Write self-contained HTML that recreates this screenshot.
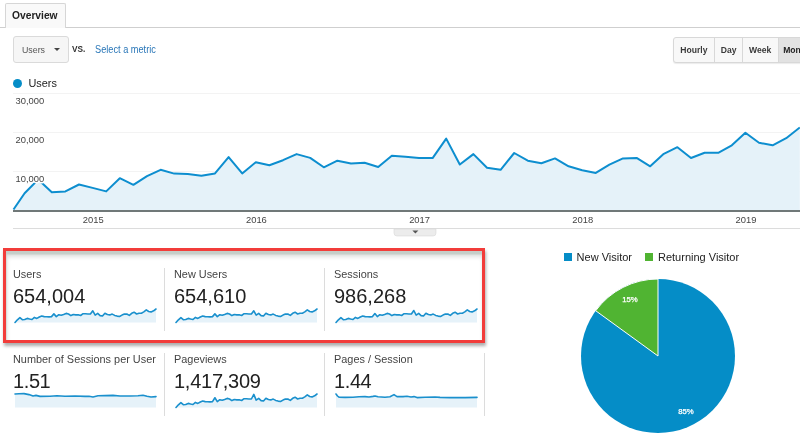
<!DOCTYPE html>
<html><head><meta charset="utf-8"><title>Overview</title>
<style>
html,body{margin:0;padding:0;background:#fff;}
body{width:800px;height:433px;position:relative;overflow:hidden;font-family:"Liberation Sans",sans-serif;color:#222;}
.abs{position:absolute;}
.sx{display:inline-block;transform-origin:0 50%;white-space:nowrap;}
.tabline{position:absolute;left:0;top:27px;width:800px;height:1px;background:#cfcfcf;}
.tab{position:absolute;left:5px;top:3px;width:59px;height:24px;border:1px solid #d6d6d6;border-bottom:none;background:#f9f9f9;font-weight:bold;font-size:11.4px;line-height:25px;color:#222;border-radius:2px 2px 0 0;}
.tab .sx{position:absolute;left:5.5px;top:-0.6px;transform:scaleX(.9);}
.dd{position:absolute;left:13px;top:36px;width:54px;height:25px;border:1px solid #dadada;border-radius:3px;background:#f6f6f6;font-size:9.8px;line-height:27px;color:#555;}
.dd .sx{position:absolute;left:8px;top:-1.2px;transform:scaleX(.9);}
.dd i{position:absolute;left:40px;top:11px;width:0;height:0;border-left:3.2px solid transparent;border-right:3.2px solid transparent;border-top:3.6px solid #444;}
.vs{position:absolute;left:72px;top:42.6px;font-size:9px;font-weight:bold;color:#333;line-height:12px;}
.vs .sx{transform:scaleX(.92);}
.sel{position:absolute;left:95px;top:44.3px;font-size:10px;color:#2a77b8;line-height:12px;}
.sel .sx{transform:scaleX(.92);}
.btns{position:absolute;left:673px;top:37px;height:24px;width:140px;border:1px solid #d8d8d8;border-radius:3px;background:#f8f8f8;box-shadow:0 1px 1px rgba(0,0,0,.08);}
.btns b{position:absolute;top:0;height:24px;line-height:24.6px;font-size:9.4px;color:#3a3a3a;text-align:center;border-left:1px solid #d8d8d8;}
.btns b .sx{transform:scaleX(.915);transform-origin:50% 50%;}
.leg{position:absolute;left:28.4px;top:76px;font-size:10.9px;line-height:14px;color:#222;}
.dot{position:absolute;left:13px;top:78.5px;width:9px;height:9px;border-radius:50%;background:#058dc7;}
.m{position:absolute;height:63px;border-right:1px solid #dcdcdc;box-sizing:border-box;}
.ml{position:absolute;top:-1px;font-size:10.9px;line-height:14px;color:#444;white-space:nowrap;}
.mv{position:absolute;top:15.9px;font-size:20px;line-height:24px;color:#222;white-space:nowrap;}
.sp{position:absolute;left:0;top:0;}
.red{position:absolute;left:3px;top:248px;width:476px;height:89px;border:3px solid #f23c3a;box-shadow:1px 3px 3px rgba(0,0,0,.32), inset 0.5px 3.4px 1px #c5cdc8, inset 1px 6px 4px rgba(0,0,0,.13);}
.pl{position:absolute;font-size:11px;line-height:14px;color:#222;top:249.8px;white-space:nowrap;}
.sq{position:absolute;top:252.6px;width:8px;height:8px;}
</style></head><body>
<div class="tabline"></div>
<div class="tab"><span class="sx">Overview</span></div>
<div class="abs" style="left:6px;top:27px;width:59px;height:1px;background:#f9f9f9"></div>
<div class="dd"><span class="sx">Users</span><i></i></div>
<div class="vs"><span class="sx">VS.</span></div>
<div class="sel"><span class="sx">Select a metric</span></div>
<div class="btns"><b style="left:0;width:40px;border-left:none"><span class="sx">Hourly</span></b><b style="left:40px;width:27px"><span class="sx">Day</span></b><b style="left:68px;width:34px;padding-right:1px"><span class="sx">Week</span></b><b style="left:104px;width:36px;background:#e2e2e2;text-align:left;padding-left:3px;color:#222"><span class="sx">Month</span></b></div>
<div class="dot"></div><div class="leg">Users</div>

<svg class="abs" style="left:0;top:88px" width="800" height="150" viewBox="0 88 800 150">
<g stroke="#f3f3f3" stroke-width="1"><line x1="13" y1="93.5" x2="800" y2="93.5"/><line x1="13" y1="132.5" x2="800" y2="132.5"/><line x1="13" y1="171.5" x2="800" y2="171.5"/></g>
<polygon points="13.5,210 13.5,209.5 24.6,193.2 38.2,179.5 51.8,192.2 65.4,191.4 79.0,184.5 92.6,187.9 106.2,191.4 119.8,178.2 133.4,184.8 147.0,176.2 160.6,169.8 174.2,173.6 187.8,174.1 201.4,175.7 215.0,173.4 228.6,157.1 242.2,173.4 255.8,162.2 269.4,165.2 283.0,160.2 296.6,154.1 310.2,157.9 323.8,167.3 337.4,160.7 351.0,163.5 364.6,162.7 378.2,167.0 391.8,155.8 405.4,156.8 419.0,157.9 432.6,158.1 446.2,138.6 459.8,164.5 473.4,154.1 487.0,167.8 500.6,169.8 514.2,153.0 527.8,160.7 541.4,163.2 555.0,158.4 568.6,166.3 582.2,170.3 595.8,172.9 609.4,164.7 623.0,158.4 636.6,157.9 650.2,166.3 663.8,153.8 677.4,147.2 691.0,158.0 704.6,152.8 718.2,152.8 731.8,145.3 745.4,132.7 759.0,142.7 772.6,145.3 786.2,138.2 799.8,127.5 799.8,210" fill="#e5f2f9"/>
<line x1="13" y1="210.9" x2="800" y2="210.9" stroke="#707878" stroke-width="2"/>
<polyline points="13.5,209.5 24.6,193.2 38.2,179.5 51.8,192.2 65.4,191.4 79.0,184.5 92.6,187.9 106.2,191.4 119.8,178.2 133.4,184.8 147.0,176.2 160.6,169.8 174.2,173.6 187.8,174.1 201.4,175.7 215.0,173.4 228.6,157.1 242.2,173.4 255.8,162.2 269.4,165.2 283.0,160.2 296.6,154.1 310.2,157.9 323.8,167.3 337.4,160.7 351.0,163.5 364.6,162.7 378.2,167.0 391.8,155.8 405.4,156.8 419.0,157.9 432.6,158.1 446.2,138.6 459.8,164.5 473.4,154.1 487.0,167.8 500.6,169.8 514.2,153.0 527.8,160.7 541.4,163.2 555.0,158.4 568.6,166.3 582.2,170.3 595.8,172.9 609.4,164.7 623.0,158.4 636.6,157.9 650.2,166.3 663.8,153.8 677.4,147.2 691.0,158.0 704.6,152.8 718.2,152.8 731.8,145.3 745.4,132.7 759.0,142.7 772.6,145.3 786.2,138.2 799.8,127.5" fill="none" stroke="#0d8ecf" stroke-width="2" stroke-linejoin="round"/>
<g font-family="Liberation Sans, sans-serif" font-size="9.4" fill="#444" stroke="#fff" stroke-width="3" paint-order="stroke" stroke-linejoin="round">
<text x="15.5" y="104.3">30,000</text><text x="15.5" y="143.4">20,000</text><text x="15.5" y="182.4">10,000</text>
</g>
<g font-family="Liberation Sans, sans-serif" font-size="9.4" fill="#444" text-anchor="middle">
<text x="93.2" y="222.5">2015</text><text x="256.4" y="222.5">2016</text><text x="419.6" y="222.5">2017</text><text x="582.8" y="222.5">2018</text><text x="746" y="222.5">2019</text>
</g>
<line x1="13" y1="228.5" x2="800" y2="228.5" stroke="#dcdcdc" stroke-width="1"/>
<path d="M394 229 H436 V233 Q436 236 433 236 H397 Q394 236 394 233 Z" fill="#ececec" stroke="#d9d9d9" stroke-width="0.6"/>
<path d="M412.4 230.4 L418.4 230.4 L415.4 233.4 Z" fill="#555"/>
</svg>

<div class="m" style="left:4px;top:268px;width:161px">
<div class="ml" style="left:9px">Users</div><div class="mv" style="left:9px">654,004</div>
<svg class="sp" width="160" height="60" viewBox="0 0 160 60"><polygon points="11.0,54.6 11.0,54.5 13.4,51.8 15.9,49.6 18.3,51.7 20.7,51.5 23.2,50.4 25.6,51.0 28.0,51.5 30.4,49.4 32.9,50.4 35.3,49.0 37.7,48.0 40.2,48.6 42.6,48.7 45.0,48.9 47.5,48.6 49.9,45.9 52.3,48.6 54.8,46.7 57.2,47.2 59.6,46.4 62.1,45.4 64.5,46.0 66.9,47.6 69.3,46.5 71.8,46.9 74.2,46.8 76.6,47.5 79.1,45.7 81.5,45.8 83.9,46.0 86.4,46.0 88.8,42.8 91.2,47.1 93.7,45.4 96.1,47.6 98.5,48.0 100.9,45.2 103.4,46.5 105.8,46.9 108.2,46.1 110.7,47.4 113.1,48.1 115.5,48.5 118.0,47.1 120.4,46.1 122.8,46.0 125.3,47.4 127.7,45.3 130.1,44.2 132.6,46.0 135.0,45.2 137.4,45.2 139.8,43.9 142.3,41.9 144.7,43.5 147.1,43.9 149.6,42.8 152.0,41.0 152.0,54.6" fill="#e6f2f9"/><polyline points="11.0,54.5 13.4,51.8 15.9,49.6 18.3,51.7 20.7,51.5 23.2,50.4 25.6,51.0 28.0,51.5 30.4,49.4 32.9,50.4 35.3,49.0 37.7,48.0 40.2,48.6 42.6,48.7 45.0,48.9 47.5,48.6 49.9,45.9 52.3,48.6 54.8,46.7 57.2,47.2 59.6,46.4 62.1,45.4 64.5,46.0 66.9,47.6 69.3,46.5 71.8,46.9 74.2,46.8 76.6,47.5 79.1,45.7 81.5,45.8 83.9,46.0 86.4,46.0 88.8,42.8 91.2,47.1 93.7,45.4 96.1,47.6 98.5,48.0 100.9,45.2 103.4,46.5 105.8,46.9 108.2,46.1 110.7,47.4 113.1,48.1 115.5,48.5 118.0,47.1 120.4,46.1 122.8,46.0 125.3,47.4 127.7,45.3 130.1,44.2 132.6,46.0 135.0,45.2 137.4,45.2 139.8,43.9 142.3,41.9 144.7,43.5 147.1,43.9 149.6,42.8 152.0,41.0" fill="none" stroke="#1a90cd" stroke-width="1.6" stroke-linejoin="round" stroke-linecap="round"/></svg>
</div>
<div class="m" style="left:165px;top:268px;width:160px">
<div class="ml" style="left:9px">New Users</div><div class="mv" style="left:9px">654,610</div>
<svg class="sp" width="160" height="60" viewBox="0 0 160 60"><polygon points="11.0,54.6 11.0,54.5 13.4,51.8 15.9,49.6 18.3,51.7 20.7,51.5 23.2,50.4 25.6,51.0 28.0,51.5 30.4,49.4 32.9,50.4 35.3,49.0 37.7,48.0 40.2,48.6 42.6,48.7 45.0,48.9 47.5,48.6 49.9,45.9 52.3,48.6 54.8,46.7 57.2,47.2 59.6,46.4 62.1,45.4 64.5,46.0 66.9,47.6 69.3,46.5 71.8,46.9 74.2,46.8 76.6,47.5 79.1,45.7 81.5,45.8 83.9,46.0 86.4,46.0 88.8,42.8 91.2,47.1 93.7,45.4 96.1,47.6 98.5,48.0 100.9,45.2 103.4,46.5 105.8,46.9 108.2,46.1 110.7,47.4 113.1,48.1 115.5,48.5 118.0,47.1 120.4,46.1 122.8,46.0 125.3,47.4 127.7,45.3 130.1,44.2 132.6,46.0 135.0,45.2 137.4,45.2 139.8,43.9 142.3,41.9 144.7,43.5 147.1,43.9 149.6,42.8 152.0,41.0 152.0,54.6" fill="#e6f2f9"/><polyline points="11.0,54.5 13.4,51.8 15.9,49.6 18.3,51.7 20.7,51.5 23.2,50.4 25.6,51.0 28.0,51.5 30.4,49.4 32.9,50.4 35.3,49.0 37.7,48.0 40.2,48.6 42.6,48.7 45.0,48.9 47.5,48.6 49.9,45.9 52.3,48.6 54.8,46.7 57.2,47.2 59.6,46.4 62.1,45.4 64.5,46.0 66.9,47.6 69.3,46.5 71.8,46.9 74.2,46.8 76.6,47.5 79.1,45.7 81.5,45.8 83.9,46.0 86.4,46.0 88.8,42.8 91.2,47.1 93.7,45.4 96.1,47.6 98.5,48.0 100.9,45.2 103.4,46.5 105.8,46.9 108.2,46.1 110.7,47.4 113.1,48.1 115.5,48.5 118.0,47.1 120.4,46.1 122.8,46.0 125.3,47.4 127.7,45.3 130.1,44.2 132.6,46.0 135.0,45.2 137.4,45.2 139.8,43.9 142.3,41.9 144.7,43.5 147.1,43.9 149.6,42.8 152.0,41.0" fill="none" stroke="#1a90cd" stroke-width="1.6" stroke-linejoin="round" stroke-linecap="round"/></svg>
</div>
<div class="m" style="left:325px;top:268px;width:160px">
<div class="ml" style="left:9px">Sessions</div><div class="mv" style="left:9px">986,268</div>
<svg class="sp" width="160" height="60" viewBox="0 0 160 60"><polygon points="11.0,54.6 11.0,54.5 13.4,51.8 15.9,49.6 18.3,51.7 20.7,51.5 23.2,50.4 25.6,51.0 28.0,51.5 30.4,49.4 32.9,50.4 35.3,49.0 37.7,48.0 40.2,48.6 42.6,48.7 45.0,48.9 47.5,48.6 49.9,45.6 52.3,48.6 54.8,46.7 57.2,47.2 59.6,46.4 62.1,45.4 64.5,46.0 66.9,47.6 69.3,46.5 71.8,46.9 74.2,46.8 76.6,47.5 79.1,45.7 81.5,45.8 83.9,46.0 86.4,46.0 88.8,42.5 91.2,47.1 93.7,45.4 96.1,47.6 98.5,48.0 100.9,45.2 103.4,46.5 105.8,46.9 108.2,46.1 110.7,47.4 113.1,48.1 115.5,48.5 118.0,47.1 120.4,46.1 122.8,46.0 125.3,47.4 127.7,45.3 130.1,44.2 132.6,46.0 135.0,45.2 137.4,45.2 139.8,43.9 142.3,41.9 144.7,43.5 147.1,43.9 149.6,42.8 152.0,41.0 152.0,54.6" fill="#e6f2f9"/><polyline points="11.0,54.5 13.4,51.8 15.9,49.6 18.3,51.7 20.7,51.5 23.2,50.4 25.6,51.0 28.0,51.5 30.4,49.4 32.9,50.4 35.3,49.0 37.7,48.0 40.2,48.6 42.6,48.7 45.0,48.9 47.5,48.6 49.9,45.6 52.3,48.6 54.8,46.7 57.2,47.2 59.6,46.4 62.1,45.4 64.5,46.0 66.9,47.6 69.3,46.5 71.8,46.9 74.2,46.8 76.6,47.5 79.1,45.7 81.5,45.8 83.9,46.0 86.4,46.0 88.8,42.5 91.2,47.1 93.7,45.4 96.1,47.6 98.5,48.0 100.9,45.2 103.4,46.5 105.8,46.9 108.2,46.1 110.7,47.4 113.1,48.1 115.5,48.5 118.0,47.1 120.4,46.1 122.8,46.0 125.3,47.4 127.7,45.3 130.1,44.2 132.6,46.0 135.0,45.2 137.4,45.2 139.8,43.9 142.3,41.9 144.7,43.5 147.1,43.9 149.6,42.8 152.0,41.0" fill="none" stroke="#1a90cd" stroke-width="1.6" stroke-linejoin="round" stroke-linecap="round"/></svg>
</div>
<div class="m" style="left:4px;top:353px;width:161px">
<div class="ml" style="left:9px">Number of Sessions per User</div><div class="mv" style="left:9px"><span style="letter-spacing:-.4px">1.51</span></div>
<svg class="sp" width="160" height="60" viewBox="0 0 160 60"><polygon points="11.0,54.6 11.0,41.0 15.0,40.8 20.0,40.6 25.0,41.6 29.0,43.0 32.0,42.4 36.0,43.4 46.0,43.2 53.0,42.8 61.0,43.3 71.0,43.0 81.0,43.4 85.0,43.2 89.0,44.0 94.0,42.8 101.0,42.6 109.0,42.4 116.0,43.0 126.0,43.0 134.0,42.8 139.0,42.2 143.0,43.2 147.0,44.0 152.0,43.6 152.0,54.6" fill="#e6f2f9"/><polyline points="11.0,41.0 15.0,40.8 20.0,40.6 25.0,41.6 29.0,43.0 32.0,42.4 36.0,43.4 46.0,43.2 53.0,42.8 61.0,43.3 71.0,43.0 81.0,43.4 85.0,43.2 89.0,44.0 94.0,42.8 101.0,42.6 109.0,42.4 116.0,43.0 126.0,43.0 134.0,42.8 139.0,42.2 143.0,43.2 147.0,44.0 152.0,43.6" fill="none" stroke="#1a90cd" stroke-width="1.6" stroke-linejoin="round" stroke-linecap="round"/></svg>
</div>
<div class="m" style="left:165px;top:353px;width:160px">
<div class="ml" style="left:9px">Pageviews</div><div class="mv" style="left:9px"><span style="letter-spacing:-.25px">1,417,309</span></div>
<svg class="sp" width="160" height="60" viewBox="0 0 160 60"><polygon points="11.0,54.6 11.0,54.5 13.4,51.8 15.9,49.6 18.3,51.7 20.7,51.5 23.2,50.4 25.6,51.0 28.0,51.5 30.4,49.4 32.9,50.4 35.3,49.0 37.7,48.0 40.2,48.6 42.6,48.7 45.0,48.9 47.5,48.6 49.9,44.8 52.3,48.6 54.8,46.7 57.2,47.2 59.6,46.4 62.1,45.4 64.5,46.0 66.9,47.6 69.3,46.5 71.8,46.9 74.2,46.8 76.6,47.5 79.1,45.7 81.5,45.8 83.9,46.0 86.4,46.0 88.8,41.4 91.2,47.1 93.7,45.4 96.1,47.6 98.5,48.0 100.9,45.2 103.4,46.5 105.8,46.9 108.2,46.1 110.7,47.4 113.1,48.1 115.5,48.5 118.0,47.1 120.4,46.1 122.8,46.0 125.3,47.4 127.7,45.3 130.1,44.2 132.6,46.0 135.0,45.2 137.4,45.2 139.8,43.9 142.3,41.9 144.7,43.5 147.1,43.9 149.6,42.8 152.0,41.0 152.0,54.6" fill="#e6f2f9"/><polyline points="11.0,54.5 13.4,51.8 15.9,49.6 18.3,51.7 20.7,51.5 23.2,50.4 25.6,51.0 28.0,51.5 30.4,49.4 32.9,50.4 35.3,49.0 37.7,48.0 40.2,48.6 42.6,48.7 45.0,48.9 47.5,48.6 49.9,44.8 52.3,48.6 54.8,46.7 57.2,47.2 59.6,46.4 62.1,45.4 64.5,46.0 66.9,47.6 69.3,46.5 71.8,46.9 74.2,46.8 76.6,47.5 79.1,45.7 81.5,45.8 83.9,46.0 86.4,46.0 88.8,41.4 91.2,47.1 93.7,45.4 96.1,47.6 98.5,48.0 100.9,45.2 103.4,46.5 105.8,46.9 108.2,46.1 110.7,47.4 113.1,48.1 115.5,48.5 118.0,47.1 120.4,46.1 122.8,46.0 125.3,47.4 127.7,45.3 130.1,44.2 132.6,46.0 135.0,45.2 137.4,45.2 139.8,43.9 142.3,41.9 144.7,43.5 147.1,43.9 149.6,42.8 152.0,41.0" fill="none" stroke="#1a90cd" stroke-width="1.6" stroke-linejoin="round" stroke-linecap="round"/></svg>
</div>
<div class="m" style="left:325px;top:353px;width:160px">
<div class="ml" style="left:9px">Pages / Session</div><div class="mv" style="left:9px"><span style="letter-spacing:-.4px">1.44</span></div>
<svg class="sp" width="160" height="60" viewBox="0 0 160 60"><polygon points="11.0,54.6 11.0,41.0 12.5,43.0 14.0,44.2 20.0,44.4 28.0,44.2 34.0,43.8 40.0,43.6 44.0,44.0 48.0,43.4 50.0,43.0 53.0,43.8 60.0,44.2 65.0,43.8 69.0,41.6 72.0,43.6 78.0,43.6 82.0,43.2 86.0,44.0 89.0,43.6 92.0,44.6 100.0,44.2 110.0,44.0 115.0,44.4 125.0,44.6 140.0,44.6 152.0,44.4 152.0,54.6" fill="#e6f2f9"/><polyline points="11.0,41.0 12.5,43.0 14.0,44.2 20.0,44.4 28.0,44.2 34.0,43.8 40.0,43.6 44.0,44.0 48.0,43.4 50.0,43.0 53.0,43.8 60.0,44.2 65.0,43.8 69.0,41.6 72.0,43.6 78.0,43.6 82.0,43.2 86.0,44.0 89.0,43.6 92.0,44.6 100.0,44.2 110.0,44.0 115.0,44.4 125.0,44.6 140.0,44.6 152.0,44.4" fill="none" stroke="#1a90cd" stroke-width="1.6" stroke-linejoin="round" stroke-linecap="round"/></svg>
</div>
<div class="abs" style="left:0;top:246px;width:6px;height:100px;background:#fff"></div>
<div class="abs" style="left:480px;top:260px;width:8px;height:75px;background:#fff"></div>
<div class="red"></div>

<div class="sq" style="left:564px;background:#058dc7"></div><div class="pl" style="left:576.6px">New Visitor</div>
<div class="sq" style="left:645px;background:#50b432"></div><div class="pl" style="left:658px">Returning Visitor</div>
<svg class="abs" style="left:570px;top:270px" width="230" height="163" viewBox="570 270 230 163">
<circle cx="658" cy="356" r="77" fill="#058dc7"/>
<path d="M658 356 L595.71 310.74 A77 77 0 0 1 658 279 Z" fill="#50b432" stroke="#fff" stroke-width="1" stroke-linejoin="round"/>
<g font-family="Liberation Sans, sans-serif" font-size="7.8" fill="#fff" stroke="#fff" stroke-width=".25" text-anchor="middle"><text x="630" y="302.1">15%</text><text x="686" y="413.9">85%</text></g>
</svg>
</body></html>
